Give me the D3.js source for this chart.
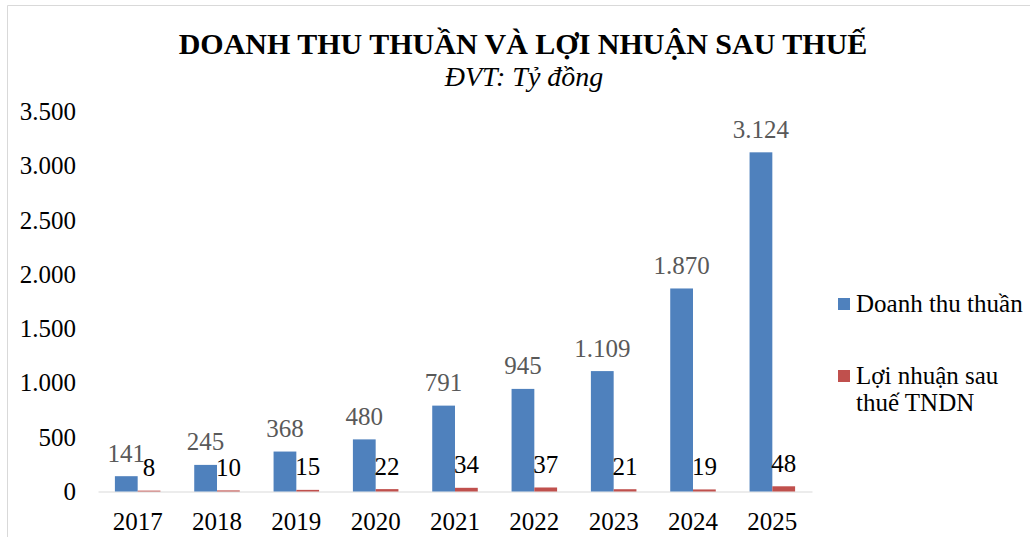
<!DOCTYPE html>
<html>
<head>
    <meta charset="utf-8">
    <title>Doanh thu thuần và lợi nhuận sau thuế</title>
    <script type="text/javascript" src="https://d3js.org/d3.v7.min.js"></script>
    <style>
        body { margin: 0; background: #fff; }
    </style>
</head>
<body>
    <svg width="1030" height="537"></svg>
    <script>
        // data
        const years = ["2017", "2018", "2019", "2020", "2021", "2022", "2023", "2024", "2025"];
        const doanhThu = [141, 245, 368, 480, 791, 945, 1109, 1870, 3124];
        const loiNhuan = [8, 10, 15, 22, 34, 37, 21, 19, 48];
        const yTicks = [0, 500, 1000, 1500, 2000, 2500, 3000, 3500];
        const seriesNames = ["Doanh thu thuần", "Lợi nhuận sau thuế TNDN"];
        const colors = ["#4F81BD", "#C0504D"];

        const serif = "'Liberation Serif', 'Times New Roman', 'DejaVu Serif', serif";
        const svg = d3.select("svg").style("font-family", serif);
        const fmt = d3.formatLocale({ decimal: ",", thousands: ".", grouping: [3], currency: ["", ""] }).format(",d");

        // outer frame
        svg.append("path")
            .attr("d", "M7.5,537 V5.5 H1030")
            .attr("fill", "none")
            .attr("stroke", "#d9d9d9")
            .attr("stroke-width", 1);

        svg.append("text")
            .attr("x", 523).attr("y", 54)
            .attr("text-anchor", "middle")
            .style("font-family", serif)
            .style("font-size", "30px").style("font-weight", "bold")
            .text("DOANH THU THUẦN VÀ LỢI NHUẬN SAU THUẾ");

        svg.append("text")
            .attr("x", 524).attr("y", 86)
            .attr("text-anchor", "middle")
            .style("font-family", serif)
            .style("font-size", "28px").style("font-style", "italic")
            .text("ĐVT: Tỷ đồng");

        const x = d3.scaleBand().domain(years).range([98, 812])
            .paddingInner(0.426).paddingOuter(0.213);
        const xs = d3.scaleBand().domain([0, 1]).range([0, x.bandwidth()]);
        const y = d3.scaleLinear().domain([0, 3500]).range([491.5, 111.5]);

        // y axis labels only
        const yAxis = svg.append("g")
            .attr("transform", "translate(76,0)")
            .call(d3.axisLeft(y).tickValues(yTicks).tickFormat(fmt).tickSize(0).tickPadding(0));
        yAxis.attr("font-family", null).attr("font-size", null);
        yAxis.select(".domain").remove();
        yAxis.selectAll("text")
            .style("font-family", serif)
            .style("font-size", "25px").attr("fill", "#000");

        const xAxis = svg.append("g")
            .attr("transform", "translate(0," + y(0) + ")")
            .call(d3.axisBottom(x).tickSize(0).tickPadding(21));
        xAxis.attr("font-family", null).attr("font-size", null);
        xAxis.select(".domain").attr("stroke", "#d9d9d9");
        xAxis.selectAll("text")
            .style("font-family", serif)
            .style("font-size", "25px").attr("fill", "#000");

        const series = [doanhThu, loiNhuan];
        series.forEach((vals, s) => {
            const g = svg.append("g");
            g.selectAll("rect")
                .data(vals)
                .enter().append("rect")
                .attr("x", (d, i) => x(years[i]) + xs(s))
                .attr("y", d => y(d))
                .attr("width", xs.bandwidth())
                .attr("height", d => y(0) - y(d))
                .attr("fill", colors[s]);
            g.selectAll("text")
                .data(vals)
                .enter().append("text")
                .attr("x", (d, i) => x(years[i]) + xs(s) + xs.bandwidth() / 2)
                .attr("y", d => y(d) - 14.5)
                .attr("text-anchor", "middle")
                .style("font-family", serif)
                .style("font-size", "25px")
                .attr("fill", s === 0 ? "#595959" : "#000")
                .text(d => fmt(d));
        });

        // legend
        const legend = svg.append("g");
        const legendRows = [[seriesNames[0]], ["Lợi nhuận sau", "thuế TNDN"]];
        const legendY = [298, 370];
        legendRows.forEach((lines, i) => {
            legend.append("rect")
                .attr("x", 838).attr("y", legendY[i])
                .attr("width", 12).attr("height", 12)
                .attr("fill", colors[i]);
            const t = legend.append("text")
                .attr("x", 856).attr("y", legendY[i] + 14)
                .style("font-family", serif)
                .style("font-size", "25px");
            lines.forEach((ln, j) => {
                t.append("tspan").attr("x", 856).attr("dy", j === 0 ? 0 : 27).text(ln);
            });
        });
    </script>
</body>
</html>
